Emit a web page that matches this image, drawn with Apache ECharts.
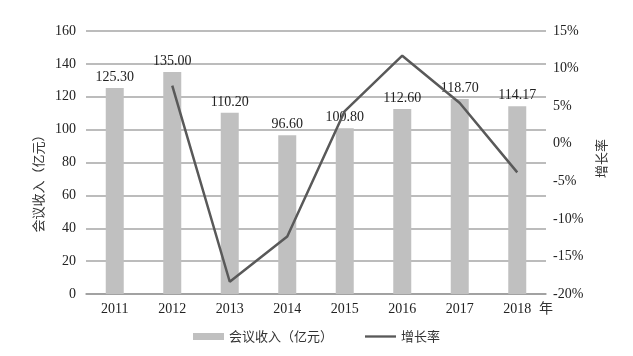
<!DOCTYPE html>
<html><head><meta charset="utf-8">
<script src="https://cdn.jsdelivr.net/npm/echarts@6/dist/echarts.min.js"></script>
<style>html,body{margin:0;padding:0;background:#fff}#c{width:633px;height:356px}</style>
</head><body><div id="c"></div>
<script>
const years = ['2011','2012','2013','2014','2015','2016','2017','2018'];
const revenue = [125.30, 135.00, 110.20, 96.60, 100.80, 112.60, 118.70, 114.17];
const growth = [null, 7.74, -18.37, -12.34, 4.35, 11.71, 5.42, -3.82];
const barName = '会议收入（亿元）';
const lineName = '增长率';

const serif = '"Liberation Serif","Noto Sans CJK SC",serif';
const cjk = '"Noto Sans CJK SC","Liberation Serif",sans-serif';
const chart = echarts.init(document.getElementById('c'));
chart.setOption({
  animation: false,
  textStyle: {fontFamily: serif, color: '#222'},
  grid: {left: 86, right: 87, top: 31, bottom: 62, containLabel: false},
  legend: {
    top: 325, left: 'center', itemWidth: 31, itemHeight: 7, itemGap: 32,
    textStyle: {fontFamily: cjk, fontSize: 13, color: '#333'},
    data: [
      {name: barName, icon: 'rect'},
      {name: lineName, icon: 'path://M0,0 L40,0 L40,3 L0,3 Z', itemStyle: {color: '#595959'}}
    ]
  },
  xAxis: {
    type: 'category', data: years, name: '年', nameGap: -7,
    nameTextStyle: {fontFamily: cjk, fontSize: 14, color: '#333', verticalAlign: 'top', align: 'left', padding: [7, 0, 0, 0]},
    axisLine: {lineStyle: {color: '#999', width: 1.5}},
    axisTick: {show: false},
    axisLabel: {fontFamily: serif, fontSize: 14, color: '#222', margin: 8}
  },
  yAxis: [{
    type: 'value', min: 0, max: 160, interval: 20,
    name: barName, nameLocation: 'middle', nameGap: 41,
    nameTextStyle: {fontFamily: cjk, fontSize: 13, color: '#333', padding: [0, 36, 0, 0]},
    axisLine: {show: false}, axisTick: {show: false},
    axisLabel: {fontFamily: serif, fontSize: 14, color: '#222', margin: 10},
    splitLine: {lineStyle: {color: '#a6a6a6', width: 1.5}}
  }, {
    type: 'value', min: -20, max: 15, interval: 5,
    name: lineName, nameLocation: 'middle', nameGap: 47,
    nameTextStyle: {fontFamily: cjk, fontSize: 13, color: '#333', padding: [0, 0, 0, 8]},
    axisLine: {show: false}, axisTick: {show: false}, splitLine: {show: false},
    axisLabel: {fontFamily: serif, fontSize: 14, color: '#222', margin: 7, formatter: '{value}%'}
  }],
  series: [{
    name: barName, type: 'bar', data: revenue, barWidth: 18, yAxisIndex: 0,
    itemStyle: {color: '#c0c0c0'},
    label: {show: true, position: 'top', distance: 4, fontFamily: serif, fontSize: 14, color: '#222',
      formatter: p => p.value.toFixed(2)}
  }, {
    name: lineName, type: 'line', data: growth, yAxisIndex: 1, symbol: 'none',
    lineStyle: {color: '#595959', width: 2.5}, itemStyle: {color: '#595959'}
  }]
});
</script></body></html>
